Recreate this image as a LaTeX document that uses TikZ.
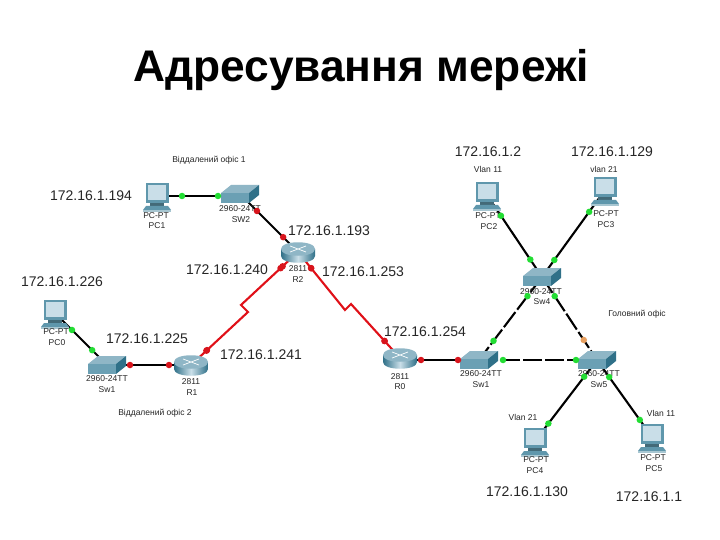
\documentclass[tikz,border=0pt]{standalone}
\usepackage{fontspec}
\setmainfont{Liberation Sans}
\usetikzlibrary{calc}
\definecolor{swtop}{HTML}{8FB6C6}
\definecolor{swfront}{HTML}{6BA0B4}
\definecolor{swside}{HTML}{2F7088}
\definecolor{pcbody}{HTML}{5F97AC}
\definecolor{pcscreen}{HTML}{C9DEE8}
\definecolor{gdotc}{HTML}{22DD33}
\definecolor{rdotc}{HTML}{D8141C}
\definecolor{odotc}{HTML}{E8A060}
\definecolor{serial}{HTML}{E01018}
\tikzset{
  x=1pt,y=-1pt,
  ip/.style={font=\fontsize{14}{14}\selectfont,text=black!85,inner sep=0pt},
  small/.style={font=\fontsize{8.5}{9}\selectfont,text=black!85,inner sep=0pt},
  eth/.style={line width=2.1pt,black},
  xover/.style={line width=2.1pt,black,dash pattern=on 19pt off 3pt},
  wan/.style={line width=2.1pt,serial},
  pcicon/.pic={
    \fill[pcbody] (-11,-13) rectangle (12,7);
    \fill[pcscreen] (-9,-11) rectangle (9,4);
    \fill[pcbody!70!black] (-7,7) rectangle (7,10);
    \fill[pcbody] (-11,10) -- (11,10) -- (14,14) -- (-14,14) -- cycle;
    \fill[pcbody!55!white] (-14,14) rectangle (14,16);
  },
  swicon/.pic={
    \fill[swtop] (-19,-1) -- (-9,-9) -- (19,-9) -- (9,-1) -- cycle;
    \fill[swfront] (-19,-1) rectangle (9,9);
    \fill[swside] (9,-1) -- (19,-9) -- (19,1) -- (9,9) -- cycle;
  },
  rticon/.pic={
    \shade[left color=swside,right color=swside,middle color=pcscreen]
      (-17,-3) -- (-17,4) .. controls (-17,13) and (17,13) .. (17,4) -- (17,-3) -- cycle;
    \fill[swtop] (-17,-3) .. controls (-17,-12) and (17,-12) .. (17,-3)
       .. controls (17,6) and (-17,6) .. (-17,-3) -- cycle;
    \draw[white,line width=0.7pt] (-8,-6) -- (8,0) (8,-6) -- (-8,0);
  },
}
\newcommand{\linkdots}[6]{%
  \node[circle,fill=#5,inner sep=0pt,minimum size=6.5pt] at ($(#1)!#3pt!(#2)$) {};
  \node[circle,fill=#6,inner sep=0pt,minimum size=6.5pt] at ($(#2)!#4pt!(#1)$) {};
}
\begin{document}
\begin{tikzpicture}
\useasboundingbox (0,0) rectangle (720,540);
\fill[white] (0,0) rectangle (720,540);

\coordinate (pc1) at (157,196);
\coordinate (sw2) at (240,194);
\coordinate (sw2p) at (240,196);
\coordinate (r2) at (298,252);
\coordinate (r1) at (191,365);
\coordinate (sw1) at (107,365);
\coordinate (pc0) at (55,313);
\coordinate (r0) at (400,358);
\coordinate (r0p) at (400,360);
\coordinate (sw3) at (479,360);
\coordinate (sw5) at (597,360);
\coordinate (sw4) at (542,277);
\coordinate (pc2) at (487,195);
\coordinate (pc3) at (605,190);
\coordinate (pc4) at (535,441);
\coordinate (pc5) at (652,437);
\coordinate (ka) at (241,305);
\coordinate (kb) at (248,312);
\coordinate (kc) at (345,310);
\coordinate (kd) at (351,304);

% links
\draw[eth] (pc1) -- (sw2p);
\draw[eth] (sw2) -- (r2);
\draw[wan] (r2) -- (ka) -- (kb) -- (r1);
\draw[wan] (r2) -- (kc) -- (kd) -- (r0);
\draw[eth] (sw1) -- (r1);
\draw[eth] (pc0) -- (sw1);
\draw[eth] (r0p) -- (sw3);
\draw[xover] (sw3) -- (sw5);
\draw[xover] (sw4) -- (sw3);
\draw[xover] (sw4) -- (sw5);
\draw[eth] (pc2) -- (sw4);
\draw[eth] (pc3) -- (sw4);
\draw[eth] (sw5) -- (pc4);
\draw[eth] (sw5) -- (pc5);

% icons
\foreach \p in {pc0,pc1,pc2,pc3,pc4,pc5} {\pic at (\p) {pcicon};}
\foreach \p in {sw1,sw2,sw3,sw4,sw5} {\pic at (\p) {swicon};}
\foreach \p in {r0,r1,r2} {\pic at (\p) {rticon};}

% device labels
\node[small] (l1) at (156,216) {PC-PT};
\node[small] (l2) at (157,226) {PC1};
\node[small] (l3) at (240,209) {2960-24TT};
\node[small] (l4) at (241,220) {SW2};
\node[small] (l5) at (298,269) {2811};
\node[small] (l6) at (298,280) {R2};
\node[small] (l7) at (56,332) {PC-PT};
\node[small] (l8) at (57,343) {PC0};
\node[small] (l9) at (107,379) {2960-24TT};
\node[small] (l10) at (107,390) {Sw1};
\node[small] (l11) at (191,382) {2811};
\node[small] (l12) at (192,393) {R1};
\node[small] (l13) at (400,377) {2811};
\node[small] (l14) at (400,387) {R0};
\node[small] (l15) at (481,374) {2960-24TT};
\node[small] (l16) at (481,385) {Sw1};
\node[small] (l17) at (599,374) {2960-24TT};
\node[small] (l18) at (599,385) {Sw5};
\node[small] (l19) at (541,292) {2960-24TT};
\node[small] (l20) at (542,302) {Sw4};
\node[small] (l21) at (488,216) {PC-PT};
\node[small] (l22) at (489,227) {PC2};
\node[small] (l23) at (606,214) {PC-PT};
\node[small] (l24) at (606,225) {PC3};
\node[small] (l25) at (536,460) {PC-PT};
\node[small] (l26) at (535,471) {PC4};
\node[small] (l27) at (653,458) {PC-PT};
\node[small] (l28) at (654,469) {PC5};
\node[small] (l29) at (488,169) {Vlan 11};
\node[small] (l30) at (604,169) {vlan 21};
\node[small] (l31) at (523,417) {Vlan 21};
\node[small] (l32) at (661,413) {Vlan 11};
\node[small] (l33) at (209,160) {Віддалений офіс 1};
\node[small] (l34) at (155,413) {Віддалений офіс 2};
\node[small] (l35) at (637,314) {Головний офіс};

% link lights
\linkdots{pc1}{sw2p}{25}{22}{gdotc}{gdotc}
\linkdots{sw2}{r2}{24}{21}{rdotc}{rdotc}
\linkdots{r2}{ka}{21}{54}{rdotc}{rdotc}
\linkdots{r1}{kb}{21}{56}{rdotc}{rdotc}
\linkdots{r2}{kc}{21}{54}{rdotc}{rdotc}
\linkdots{r0}{kd}{23}{50}{rdotc}{rdotc}
\linkdots{sw1}{r1}{23}{22}{rdotc}{rdotc}
\linkdots{pc0}{sw1}{24}{21}{gdotc}{gdotc}
\linkdots{r0p}{sw3}{21}{21}{rdotc}{rdotc}
\linkdots{sw3}{sw5}{24}{21}{gdotc}{gdotc}
\linkdots{sw4}{sw3}{24}{24}{gdotc}{gdotc}
\linkdots{sw4}{sw5}{23}{24}{gdotc}{odotc}
\linkdots{pc2}{sw4}{25}{21}{gdotc}{gdotc}
\linkdots{pc3}{sw4}{27}{21}{gdotc}{gdotc}
\linkdots{sw5}{pc4}{21}{22}{gdotc}{gdotc}
\linkdots{sw5}{pc5}{21}{21}{gdotc}{gdotc}

% addresses
\node[ip] (a1) at (488,152) {172.16.1.2};
\node[ip] (a2) at (612,152) {172.16.1.129};
\node[ip] (a3) at (91,196) {172.16.1.194};
\node[ip] (a4) at (329,231) {172.16.1.193};
\node[ip] (a5) at (227,270) {172.16.1.240};
\node[ip] (a6) at (363,272) {172.16.1.253};
\node[ip] (a7) at (62,282) {172.16.1.226};
\node[ip] (a8) at (147,339) {172.16.1.225};
\node[ip] (a9) at (425,332) {172.16.1.254};
\node[ip] (a10) at (261,355) {172.16.1.241};
\node[ip] (a11) at (527,492) {172.16.1.130};
\node[ip] (a12) at (649,497) {172.16.1.1};

\node[font=\fontsize{44.3}{44.3}\selectfont\bfseries,inner sep=0pt] (title) at (361,70) {Адресування мережі};
\end{tikzpicture}
\end{document}
